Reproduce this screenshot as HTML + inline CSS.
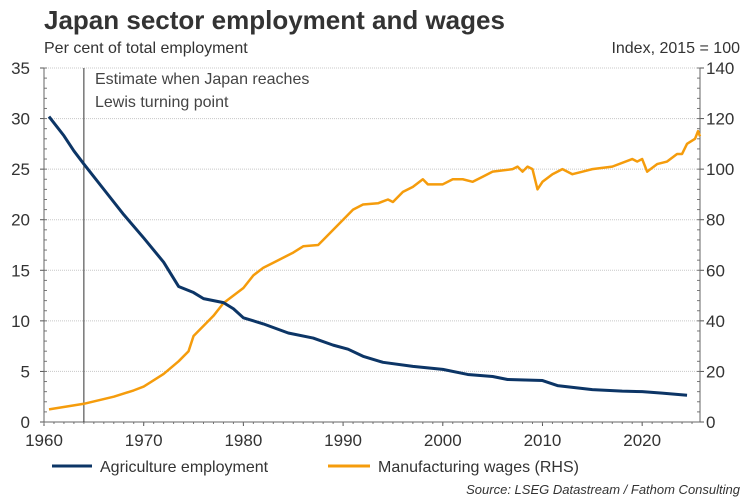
<!DOCTYPE html>
<html><head><meta charset="utf-8"><style>
body{margin:0;background:#fff;}
svg{display:block;font-family:"Liberation Sans",Arial,sans-serif;}
</style></head><body>
<svg id="c" width="750" height="500">
<text x="44" y="29" font-size="26" font-weight="bold" fill="#333">Japan sector employment and wages</text>
<text x="44" y="53" font-size="16" fill="#333">Per cent of total employment</text>
<text x="740" y="53" font-size="16" fill="#333" text-anchor="end">Index, 2015 = 100</text>
<g id="grid"></g><g id="axes"></g><g id="series"></g>
<text x="95" y="84" font-size="16" fill="#444">Estimate when Japan reaches</text>
<text x="95" y="107" font-size="16" fill="#444">Lewis turning point</text>
<line x1="52" y1="466" x2="92" y2="466" stroke="#0c3566" stroke-width="3"/>
<text x="100" y="472" font-size="16" fill="#333">Agriculture employment</text>
<line x1="328" y1="466" x2="370" y2="466" stroke="#f59c0c" stroke-width="3"/>
<text x="378" y="472" font-size="16" fill="#333">Manufacturing wages (RHS)</text>
<text x="740" y="494" font-size="13" font-style="italic" fill="#333" text-anchor="end">Source: LSEG Datastream / Fathom Consulting</text>
</svg>
<script>
const agriYears=[1960.5,1962,1963,1964,1966,1968,1970,1972,1973.5,1975,1976,1978,1979,1980,1982,1984.5,1987,1989,1990.5,1992,1994,1997,2000,2002.5,2005,2006.5,2010,2011.5,2015,2018,2020,2022,2024.5];
const agriValues=[30.2,28.3,26.8,25.5,23,20.5,18.2,15.8,13.4,12.8,12.2,11.8,11.2,10.3,9.7,8.8,8.3,7.6,7.2,6.5,5.9,5.5,5.2,4.7,4.5,4.2,4.1,3.6,3.2,3.05,3.0,2.85,2.65];
const manYears=[1960.5,1964,1967,1969,1970,1972,1973.5,1974.5,1975,1976,1977,1978,1980,1981,1982,1983,1985,1986,1987.5,1988,1989,1990,1991,1992,1993.5,1994.5,1995,1996,1997,1998,1998.5,2000,2001,2002,2003,2004,2005,2007,2007.5,2008,2008.5,2009,2009.5,2010,2011,2012,2013,2014,2015,2017,2019,2019.5,2020,2020.5,2021.5,2022.5,2023.5,2024,2024.5,2025.3,2025.6,2025.8];
const manValues=[5,7.2,10,12.5,14,19,24,28,34,38,42,47,53,58,61,63,67,69.5,70,72,76,80,84,86,86.5,88,87,91,93,96,94,94,96,96,95,97,99,100,101,99,101,100,92,95,98,100,98,99,100,101,104,103,104,99,102,103,106,106,110,112,115,113];
const leftTicks=[0,5,10,15,20,25,30,35];
const rightTicks=[0,20,40,60,80,100,120,140];
const xTicks=[1960,1970,1980,1990,2000,2010,2020];
const lewisYear=1964;
const X0=44,X1=700,Y0=422,Y1=68,yrMin=1960,yrMax=2025.8;
const sx=y=>X0+(y-yrMin)/(yrMax-yrMin)*(X1-X0);
const syL=v=>Y0-v/35*(Y0-Y1);
const syR=v=>Y0-v/140*(Y0-Y1);
const NS="http://www.w3.org/2000/svg";
function mk(tag,attrs,parent){const e=document.createElementNS(NS,tag);for(const k in attrs)e.setAttribute(k,attrs[k]);parent.appendChild(e);return e;}
const grid=document.getElementById('grid'),axes=document.getElementById('axes'),ser=document.getElementById('series');
leftTicks.forEach((t,i)=>{
 if(t>0){const g=mk('line',{x1:X0,x2:X1,y1:syL(t),y2:syL(t),stroke:'#c8c8c8','stroke-width':1,'stroke-dasharray':'1,1'},grid);
 
 }
 const l=mk('text',{x:30,y:syL(t)+6,'font-size':17,fill:'#333','text-anchor':'end'},axes);l.textContent=t;
 
 
 mk('line',{x1:X0-4,x2:X0,y1:syL(t),y2:syL(t),stroke:'#555'},axes);
});
for(let v=0;v<=35;v+=1){mk('line',{x1:X0,x2:X0+3,y1:syL(v),y2:syL(v),stroke:'#777'},axes);}
rightTicks.forEach(t=>{
 const l=mk('text',{x:706,y:syR(t)+6,'font-size':17,fill:'#333'},axes);l.textContent=t;
 
 
 mk('line',{x1:X1,x2:X1+4,y1:syR(t),y2:syR(t),stroke:'#555'},axes);
});
for(let v=0;v<=140;v+=4){mk('line',{x1:X1-3,x2:X1,y1:syR(v),y2:syR(v),stroke:'#777'},axes);}
xTicks.forEach(t=>{
 const l=mk('text',{x:sx(t),y:446,'font-size':17,fill:'#333','text-anchor':'middle'},axes);l.textContent=t;
 
 
 mk('line',{x1:sx(t),x2:sx(t),y1:Y0,y2:Y0+4,stroke:'#555'},axes);
});
for(let y=1960;y<=2025;y++){mk('line',{x1:sx(y),x2:sx(y),y1:Y0,y2:Y0+2,stroke:'#777'},axes);}
[['x-axis',X0,Y0,X1,Y0],['left-axis',X0,Y1,X0,Y0],['right-axis',X1,Y1,X1,Y0]].forEach(a=>{
 const l=mk('line',{x1:a[1],y1:a[2],x2:a[3],y2:a[4],stroke:'#666'},axes);
 
 
});
const vl=mk('line',{x1:sx(lewisYear),x2:sx(lewisYear),y1:Y1,y2:Y0,stroke:'#333','stroke-width':1},ser);


const pm=mk('polyline',{points:manYears.map((y,i)=>sx(y)+','+syR(manValues[i])).join(' '),fill:'none',stroke:'#f59c0c','stroke-width':2.5,'stroke-linejoin':'round'},ser);


const pa=mk('polyline',{points:agriYears.map((y,i)=>sx(y)+','+syL(agriValues[i])).join(' '),fill:'none',stroke:'#0c3566','stroke-width':3,'stroke-linejoin':'round'},ser);


</script>
</body></html>
